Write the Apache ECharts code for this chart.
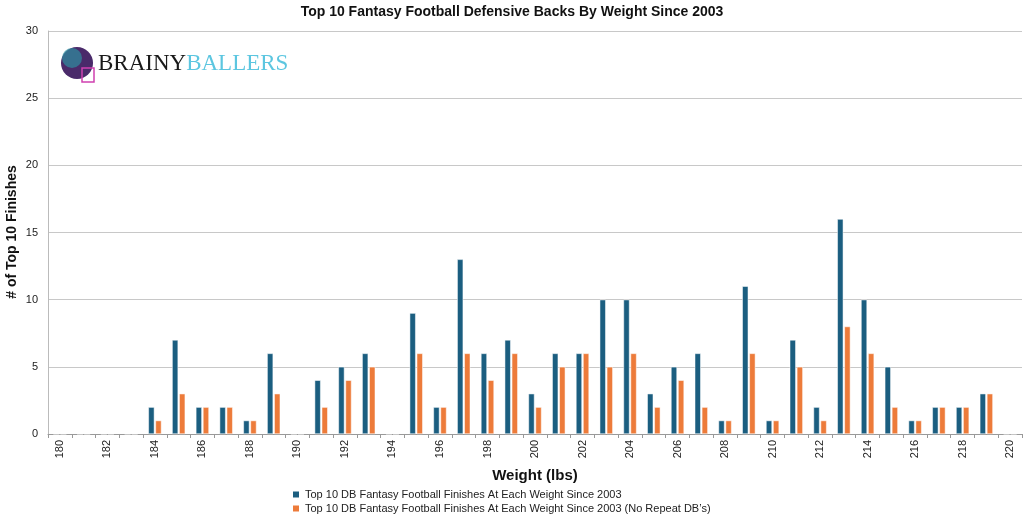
<!DOCTYPE html>
<html><head><meta charset="utf-8">
<script src="https://cdn.jsdelivr.net/npm/echarts@6/dist/echarts.min.js"></script>
<style>html,body{margin:0;padding:0;background:#fff}#c{width:1024px;height:517px}</style>
</head><body><div id="c"></div>
<script>
const weights = ['180','181','182','183','184','185','186','187','188','189','190','191','192','193','194','195','196','197','198','199','200','201','202','203','204','205','206','207','208','209','210','211','212','213','214','215','216','217','218','219','220'];
const allFinishes = [0,0,0,0,2,7,2,2,1,6,0,4,5,6,0,9,2,13,6,7,3,6,6,10,10,3,5,6,1,11,1,7,2,16,10,5,1,2,2,3,0];
const noRepeat    = [0,0,0,0,1,3,2,2,1,3,0,2,4,5,0,6,2,6,4,6,2,5,6,5,6,2,4,2,1,6,1,5,1,8,6,2,1,2,2,3,0];
const seriesNames = ['Top 10 DB Fantasy Football Finishes At Each Weight Since 2003','Top 10 DB Fantasy Football Finishes At Each Weight Since 2003 (No Repeat DB\u2019s)'];
const yTicks = [0,5,10,15,20,25,30];
const yAxisTitle = '# of Top 10 Finishes';

const chart = echarts.init(document.getElementById('c'));
const F = 'Liberation Sans, Arial, Helvetica, sans-serif';
const legendBase = {orient:'horizontal',left:286,itemWidth:8,itemHeight:8,icon:'rect',
  textStyle:{fontFamily:F,fontSize:11,color:'#222'}};
chart.setOption({
  animation:false,
  backgroundColor:'#fff',
  title:{text:'Top 10 Fantasy Football Defensive Backs By Weight Since 2003',left:'center',top:0,
    textStyle:{fontFamily:F,fontSize:14,fontWeight:'bold',color:'#111'}},
  grid:{left:48,right:2,top:31,bottom:83,containLabel:false,outerBoundsMode:'none'},
  legend:[
    Object.assign({},legendBase,{top:484,data:[seriesNames[0]]}),
    Object.assign({},legendBase,{top:498,data:[seriesNames[1]]})
  ],
  xAxis:{type:'category',data:weights,name:'Weight (lbs)',nameLocation:'middle',nameGap:34,
    nameTextStyle:{fontFamily:F,fontSize:15,fontWeight:'bold',color:'#111'},
    axisLine:{lineStyle:{color:'#999'}},
    axisTick:{show:true,interval:0,length:4,lineStyle:{color:'#999'}},
    axisLabel:{interval:1,rotate:90,fontFamily:F,fontSize:11,color:'#222',margin:6}},
  yAxis:{type:'value',min:0,max:30,interval:5,
    axisLine:{show:true,lineStyle:{color:'#bbb'}},axisTick:{show:false},
    axisLabel:{fontFamily:F,fontSize:11,color:'#222',margin:10,
      formatter:v=>yTicks.includes(v)?String(v):''},
    splitLine:{lineStyle:{color:'#c8c8c8'}}},
  series:[
    {name:seriesNames[0],type:'bar',data:allFinishes,barWidth:6,barGap:'18%',
      itemStyle:{color:'#1b5e80',borderColor:'#fff',borderWidth:0.5}},
    {name:seriesNames[1],type:'bar',data:noRepeat,barWidth:6,
      itemStyle:{color:'#ed7b3a',borderColor:'#fff',borderWidth:0.5}}
  ],
  graphic:[
    {type:'text',x:12,y:232,rotation:Math.PI/2,style:{text:yAxisTitle,fontFamily:F,fontSize:14,fontWeight:'bold',
      fill:'#111',align:'center',verticalAlign:'middle'}},
    {type:'circle',shape:{cx:77,cy:63,r:16},style:{fill:'#4a2a6a'}},
    {type:'circle',shape:{cx:72,cy:58,r:10},style:{fill:'#2e8fa0',opacity:0.7}},
    {type:'rect',shape:{x:82,y:68,width:12,height:14},style:{fill:'none',stroke:'#d040b0',lineWidth:1.5}},
    {type:'text',left:98,top:52,style:{rich:{a:{fontFamily:'Liberation Serif, DejaVu Serif, serif',fontSize:23,fill:'#1a1a1a'},
      b:{fontFamily:'Liberation Serif, DejaVu Serif, serif',fontSize:23,fill:'#5cc6e0'}},text:'{a|BRAINY}{b|BALLERS}'}}
  ]
});
</script></body></html>
